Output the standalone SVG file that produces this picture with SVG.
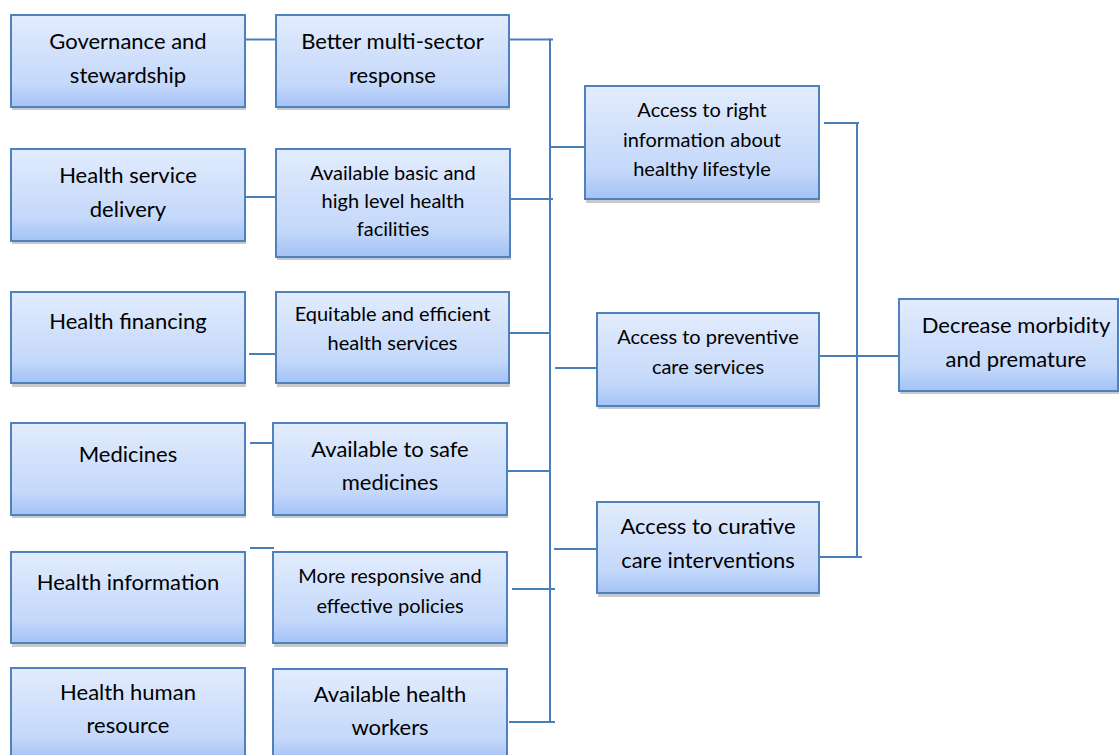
<svg xmlns="http://www.w3.org/2000/svg" width="1119" height="755" viewBox="0 0 1119 755">
<defs>
<linearGradient id="g" x1="0" y1="0" x2="0" y2="1">
<stop offset="0" stop-color="#E2ECFD"/>
<stop offset="0.75" stop-color="#C4D8FA"/>
<stop offset="1" stop-color="#A3C2F5"/>
</linearGradient>
<style>
.sh{fill:#C9C9C9}
.bx{fill:url(#g);stroke:#4F81BD;stroke-width:2}
.t{font-family:Lato,"Liberation Sans",sans-serif;font-size:22px;fill:#000;text-anchor:middle}
.s{font-size:20px}
.c line{stroke:#4A7EBB;stroke-width:2;stroke-linecap:butt}
</style>
</defs>
<rect width="1119" height="755" fill="#fff"/>

<g id="connectors" class="c">
<line x1="245" y1="39.5" x2="276" y2="39.5"/>
<line x1="245" y1="197" x2="276" y2="197"/>
<line x1="249" y1="354" x2="276" y2="354"/>
<line x1="250" y1="443" x2="273" y2="443"/>
<line x1="250" y1="548" x2="274" y2="548"/>
<line x1="550" y1="38.5" x2="550" y2="723"/>
<line x1="509" y1="39.5" x2="553" y2="39.5"/>
<line x1="510" y1="199" x2="553" y2="199"/>
<line x1="507" y1="333" x2="550" y2="333"/>
<line x1="507" y1="471" x2="550" y2="471"/>
<line x1="512" y1="589" x2="555" y2="589"/>
<line x1="509" y1="722" x2="555" y2="722"/>
<line x1="550" y1="147" x2="585" y2="147"/>
<line x1="555" y1="368" x2="597" y2="368"/>
<line x1="554" y1="549" x2="597" y2="549"/>
<line x1="857" y1="122" x2="857" y2="558"/>
<line x1="824" y1="123" x2="859" y2="123"/>
<line x1="816" y1="356" x2="899" y2="356"/>
<line x1="819" y1="557" x2="862" y2="557"/>
</g>

<g id="n-governance">
<rect class="sh" x="12" y="18" width="234" height="92"/>
<rect class="bx" x="11" y="15" width="234" height="92"/>
<text class="t" x="128" y="49">Governance and</text>
<text class="t" x="128" y="83">stewardship</text>
</g>
<g id="n-service">
<rect class="sh" x="12" y="152" width="234" height="92"/>
<rect class="bx" x="11" y="149" width="234" height="92"/>
<text class="t" x="128" y="183">Health service</text>
<text class="t" x="128" y="217">delivery</text>
</g>
<g id="n-financing">
<rect class="sh" x="12" y="295" width="234" height="92"/>
<rect class="bx" x="11" y="292" width="234" height="91"/>
<text class="t" x="128" y="329">Health financing</text>
</g>
<g id="n-medicines">
<rect class="sh" x="12" y="426" width="234" height="92"/>
<rect class="bx" x="11" y="423" width="234" height="92"/>
<text class="t" x="128" y="462">Medicines</text>
</g>
<g id="n-information">
<rect class="sh" x="12" y="555" width="234" height="92"/>
<rect class="bx" x="11" y="552" width="234" height="91"/>
<text class="t" x="128" y="590">Health information</text>
</g>
<g id="n-hr">
<rect class="sh" x="12" y="671" width="234" height="92"/>
<rect class="bx" x="11" y="668" width="234" height="92"/>
<text class="t" x="128" y="700">Health human</text>
<text class="t" x="128" y="733">resource</text>
</g>

<g id="n-multisector">
<rect class="sh" x="277" y="18" width="233" height="92"/>
<rect class="bx" x="276" y="15" width="233" height="92"/>
<text class="t" x="392.5" y="49">Better multi-sector</text>
<text class="t" x="392.5" y="83">response</text>
</g>
<g id="n-facilities">
<rect class="sh" x="277" y="152" width="234" height="108"/>
<rect class="bx" x="276" y="149" width="234" height="108"/>
<text class="t s" x="393" y="180">Available basic and</text>
<text class="t s" x="393" y="208">high level health</text>
<text class="t s" x="393" y="236">facilities</text>
</g>
<g id="n-equitable">
<rect class="sh" x="277" y="295" width="233" height="92"/>
<rect class="bx" x="276" y="292" width="233" height="91"/>
<text class="t s" x="392.5" y="321">Equitable and efficient</text>
<text class="t s" x="392.5" y="350">health services</text>
</g>
<g id="n-safe">
<rect class="sh" x="274" y="426" width="234" height="92"/>
<rect class="bx" x="273" y="423" width="234" height="92"/>
<text class="t" x="390" y="457">Available to safe</text>
<text class="t" x="390" y="490">medicines</text>
</g>
<g id="n-policies">
<rect class="sh" x="274" y="555" width="234" height="92"/>
<rect class="bx" x="273" y="552" width="234" height="91"/>
<text class="t s" x="390" y="583">More responsive and</text>
<text class="t s" x="390" y="613">effective policies</text>
</g>
<g id="n-workers">
<rect class="sh" x="274" y="672" width="234" height="92"/>
<rect class="bx" x="273" y="669" width="234" height="92"/>
<text class="t" x="390" y="702">Available health</text>
<text class="t" x="390" y="735">workers</text>
</g>

<g id="n-info">
<rect class="sh" x="586" y="89" width="234" height="114"/>
<rect class="bx" x="585" y="86" width="234" height="113"/>
<text class="t s" x="702" y="117">Access to right</text>
<text class="t s" x="702" y="147">information about</text>
<text class="t s" x="702" y="176">healthy lifestyle</text>
</g>
<g id="n-preventive">
<rect class="sh" x="598" y="316" width="222" height="93"/>
<rect class="bx" x="597" y="313" width="222" height="93"/>
<text class="t s" x="708" y="344">Access to preventive</text>
<text class="t s" x="708" y="374">care services</text>
</g>
<g id="n-curative">
<rect class="sh" x="598" y="505" width="222" height="92"/>
<rect class="bx" x="597" y="502" width="222" height="91"/>
<text class="t" x="708" y="534">Access to curative</text>
<text class="t" x="708" y="568">care interventions</text>
</g>

<g id="n-outcome">
<rect class="sh" x="900" y="302" width="219" height="92"/>
<rect class="bx" x="899" y="299" width="219" height="92"/>
<text class="t" x="1016" y="333">Decrease morbidity</text>
<text class="t" x="1016" y="367">and premature</text>
</g>
</svg>
